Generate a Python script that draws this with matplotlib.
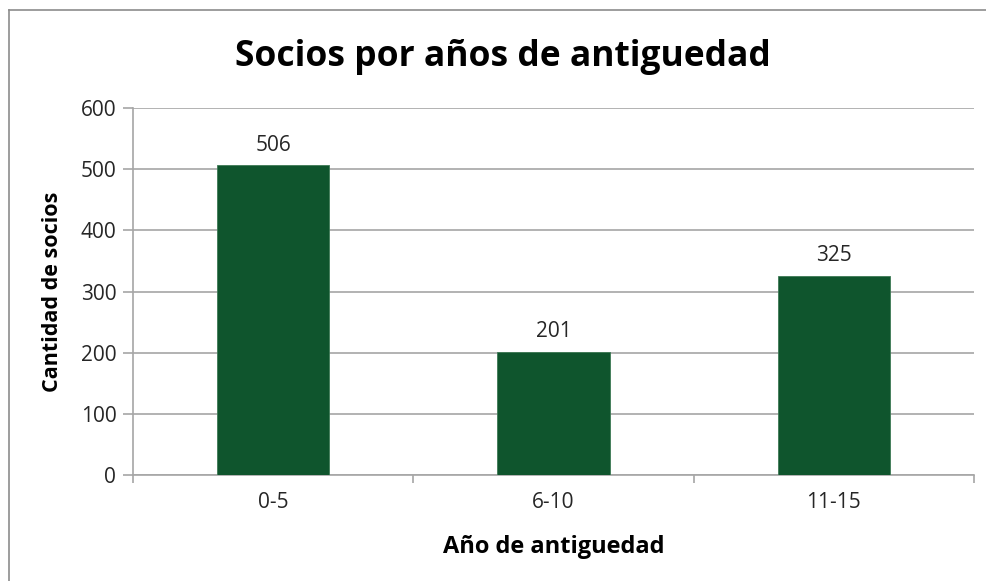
import matplotlib
matplotlib.use("Agg")
import matplotlib.pyplot as plt
from matplotlib.lines import Line2D

categories = ["0-5", "6-10", "11-15"]
values = [506, 201, 325]
yticks = [0, 100, 200, 300, 400, 500, 600]

plt.rcParams['font.family'] = ['Open Sans', 'DejaVu Sans']

W, H = 987, 581
fig = plt.figure(figsize=(W/100, H/100), dpi=100)
ax = fig.add_axes([133/W, 1-475/H, (974-133)/W, (475-108)/H])

gray = "#A6A6A6"
txt = "#262626"
xs = list(range(len(categories)))
ax.bar(xs, values, width=0.4, color="#0F552D", edgecolor="#3E7A55", linewidth=0.6, zorder=3)
for x, v in zip(xs, values):
    ax.annotate(str(v), (x, v), xytext=(0, 7), textcoords="offset points",
                ha="center", va="bottom", fontsize=15, color=txt)

ax.set_xlim(-0.5, len(categories)-0.5)
ax.set_ylim(0, 600)
ax.set_yticks(yticks)
ax.set_yticklabels([str(t) for t in yticks], fontsize=15, color=txt)
ax.set_xticks(xs)
ax.set_xticklabels(categories, fontsize=15, color=txt)
ax.set_xticks([i - 0.5 for i in range(len(categories)+1)], minor=True)
ax.tick_params(axis='x', which='major', length=0, pad=12)
ax.tick_params(axis='x', which='minor', length=6, color=gray, width=1.2)
ax.tick_params(axis='y', length=7, color=gray, width=1.2, pad=5)
ax.grid(axis='y', color=gray, linewidth=1.2, zorder=0)
ax.set_axisbelow(True)
for s in ['top', 'right']:
    ax.spines[s].set_visible(False)
for s in ['left', 'bottom']:
    ax.spines[s].set_color(gray)
    ax.spines[s].set_linewidth(1.2)

ax.set_ylabel("Cantidad de socios", fontsize=15.5, fontweight='bold', labelpad=13)
ax.set_xlabel("Año de antiguedad", fontsize=17, fontweight='bold', labelpad=16)
fig.text(503/W, 1-57/H, "Socios por años de antiguedad", fontsize=25.5, fontweight='bold',
         ha='center', va='center')

bc = "#8C8C8C"
fig.add_artist(Line2D([9/W, 9/W], [0, 1-10/H], transform=fig.transFigure, color=bc, linewidth=1.2))
fig.add_artist(Line2D([9/W, 1], [1-10/H, 1-10/H], transform=fig.transFigure, color=bc, linewidth=1.2))

fig.savefig("out.png", dpi=100)
